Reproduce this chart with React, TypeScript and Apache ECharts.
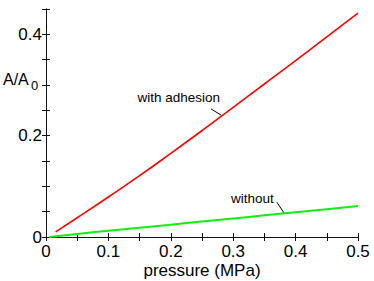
import React, { useEffect, useRef } from "react";
import * as echarts from "echarts";

const pressure = [0.0155, 0.05, 0.1, 0.15, 0.2, 0.25, 0.3, 0.35, 0.4, 0.45, 0.5];
const withAdhesion = [0.01, 0.038, 0.079, 0.121, 0.165, 0.21, 0.256, 0.302, 0.348, 0.395, 0.442];
const pressureWithout = [0.005, 0.05, 0.1, 0.15, 0.2, 0.25, 0.3, 0.35, 0.4, 0.45, 0.5];
const without = [0, 0.006, 0.0122, 0.0183, 0.0244, 0.0305, 0.0366, 0.0427, 0.0488, 0.0549, 0.061];
const xTickLabels = ["0", "0.1", "0.2", "0.3", "0.4", "0.5"];
const yTickLabels = ["0", "0.2", "0.4"];

const FONT = "'Liberation Sans', Arial, Helvetica, sans-serif";

export default function App() {
  const ref = useRef<HTMLDivElement>(null);
  useEffect(() => {
    if (!ref.current) return;
    const chart = echarts.init(ref.current, null, { renderer: "svg" });
    const axisLine = { show: true, lineStyle: { color: "#111", width: 1 } };
    const tick = { show: true, inside: true, length: 4, lineStyle: { color: "#111" } };
    const fmtX = (v: number) => {
      const s = String(Math.round(v * 10) / 10);
      return Math.round(v * 100) % 10 === 0 && xTickLabels.includes(s) ? s : "";
    };
    const fmtY = (v: number) => {
      const s = String(Math.round(v * 10) / 10);
      return Math.round(v * 100) % 20 === 0 && yTickLabels.includes(s) ? s : "";
    };
    chart.setOption({
      animation: false,
      textStyle: { fontFamily: FONT },
      grid: { left: 46, top: 9, right: 16, bottom: 44, containLabel: false, outerBoundsMode: "none" },
      xAxis: [
        {
          type: "value", min: 0, max: 0.5, interval: 0.05,
          axisLine, axisTick: tick, splitLine: { show: false },
          axisLabel: { formatter: fmtX, color: "#000", fontSize: 17, lineHeight: 17, fontFamily: FONT, margin: 6, showMinLabel: true, showMaxLabel: true },
          name: "pressure (MPa)", nameLocation: "middle", nameGap: 25, nameMoveOverlap: false,
          nameTextStyle: { color: "#000", fontSize: 17, lineHeight: 17, fontFamily: FONT },
        },
        {
          type: "value", position: "top", min: 0, max: 0.5, interval: 0.05,
          axisLine, axisTick: tick, axisLabel: { show: false }, splitLine: { show: false },
        },
      ],
      yAxis: [
        {
          type: "value", min: 0, max: 0.45, interval: 0.05,
          axisLine, axisTick: tick, splitLine: { show: false },
          axisLabel: { formatter: fmtY, color: "#000", fontSize: 17, fontFamily: FONT, margin: 4, showMaxLabel: true },
        },
        {
          type: "value", position: "right", min: 0, max: 0.45, interval: 0.05,
          axisLine, axisTick: tick, axisLabel: { show: false }, splitLine: { show: false },
        },
      ],
      series: [
        {
          type: "line", name: "with adhesion", showSymbol: false, smooth: true,
          data: pressure.map((p, i) => [p, withAdhesion[i]]),
          lineStyle: { color: "#ff0000", width: 1.6 },
        },
        {
          type: "line", name: "without", showSymbol: false, smooth: true,
          data: pressureWithout.map((p, i) => [p, without[i]]),
          lineStyle: { color: "#11ee11", width: 2 },
        },
      ],
    });
    const a1 = chart.convertToPixel({ gridIndex: 0 }, [0.2644, 0.2529]) as number[];
    const a2 = chart.convertToPixel({ gridIndex: 0 }, [0.2813, 0.24]) as number[];
    const b1 = chart.convertToPixel({ gridIndex: 0 }, [0.37, 0.0687]) as number[];
    const b2 = chart.convertToPixel({ gridIndex: 0 }, [0.3814, 0.0475]) as number[];
    chart.setOption({
      graphic: [
        { type: "text", left: 3, top: 71, style: { text: "A/A", font: `16px ${FONT}`, fill: "#000" } },
        { type: "text", left: 31, top: 79, style: { text: "0", font: `13px ${FONT}`, fill: "#000" } },
        { type: "line", shape: { x1: a1[0], y1: a1[1], x2: a2[0], y2: a2[1] }, style: { stroke: "#000", lineWidth: 1 } },
        { type: "text", x: a1[0] + 9, y: a1[1] - 11, style: { text: "with adhesion", font: `13.5px ${FONT}`, fill: "#000", align: "right", verticalAlign: "middle" } },
        { type: "line", shape: { x1: b1[0], y1: b1[1], x2: b2[0], y2: b2[1] }, style: { stroke: "#000", lineWidth: 1 } },
        { type: "text", x: b1[0] - 3, y: b1[1] - 4, style: { text: "without", font: `13.5px ${FONT}`, fill: "#000", align: "right", verticalAlign: "middle" } },
      ],
    });
    return () => chart.dispose();
  }, []);
  return <div ref={ref} style={{ width: 374, height: 281, position: "absolute", left: 0, top: 0 }} />;
}
